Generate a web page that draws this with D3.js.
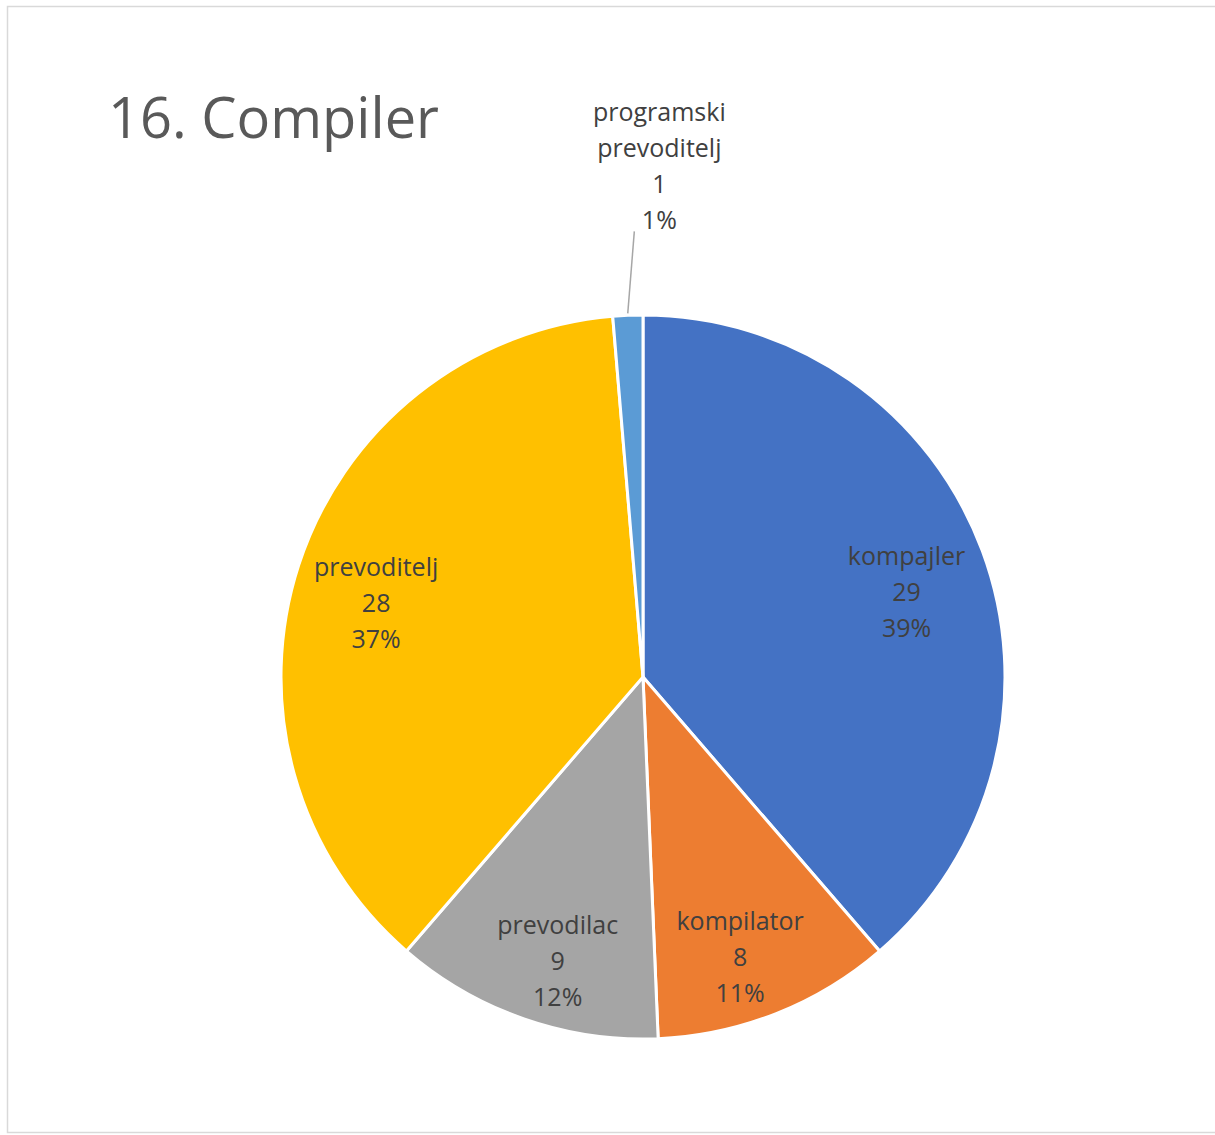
<!DOCTYPE html>
<html><head><meta charset="utf-8">
<script src="https://cdn.jsdelivr.net/npm/d3@7"></script>
<style>body{margin:0;background:#fff}svg{display:block}</style>
</head><body>
<svg id="c" width="1215" height="1135"></svg>
<script>
const categories = ["kompajler", "kompilator", "prevodilac", "prevoditelj", "programski prevoditelj"];
const values = [29, 8, 9, 28, 1];
const colors = ["#4472C4", "#ED7D31", "#A5A5A5", "#FFC000", "#5B9BD5"];
const title = "16. Compiler";

const svg = d3.select("#c");
svg.append("rect").attr("x", 7.5).attr("y", 6.5).attr("width", 1210).attr("height", 1126)
  .attr("fill", "#fff").attr("stroke", "#d9d9d9").attr("stroke-width", 1.5);

svg.append("text").attr("x", 108).attr("y", 138).text(title)
  .attr("font-family", "'Open Sans', 'Noto Sans', sans-serif").attr("font-size", 56)
  .attr("fill", "#595959");

const cx = 643, cy = 677, R = 362;
const total = d3.sum(values);
const data = categories.map((c, i) => ({ cat: c, val: values[i], color: colors[i] }));
const pie = d3.pie().value(d => d.val).sort(null);
const arcs = pie(data);
const arc = d3.arc().innerRadius(0).outerRadius(R);

const g = svg.append("g").attr("transform", `translate(${cx},${cy})`);
g.selectAll("path").data(arcs).join("path")
  .attr("d", arc).attr("fill", d => d.data.color)
  .attr("stroke", "#fff").attr("stroke-width", 3).attr("stroke-linejoin", "round");

const font = "'Open Sans', 'Noto Sans', sans-serif";
const fs = 25;
const lineH = 36;
const q = Math.PI / 2;
arcs.forEach(a => {
  let mid = (a.startAngle + a.endAngle) / 2;
  const pct = Math.round(a.data.val / total * 100) + "%";
  const frac = a.data.val / total;
  if (frac < 0.05) {
    const r1 = R + 2, r2 = R + 84;
    const p1 = [Math.sin(mid) * r1, -Math.cos(mid) * r1];
    const p2 = [Math.sin(mid) * r2 + 10, -Math.cos(mid) * r2];
    g.append("line").attr("x1", p1[0]).attr("y1", p1[1]).attr("x2", p2[0]).attr("y2", p2[1])
      .attr("stroke", "#a6a6a6").attr("stroke-width", 1.5);
    const lines = a.data.cat.split(" ").concat([String(a.data.val), pct]);
    const tx = p2[0] + 25, lastBase = p2[1] - 2;
    lines.forEach((t, i) => {
      g.append("text").attr("x", tx).attr("y", lastBase - (lines.length - 1 - i) * lineH)
        .attr("text-anchor", "middle").attr("font-family", font).attr("font-size", fs)
        .attr("fill", "#404040").text(t);
    });
  } else {
    // pull label slightly toward the nearest axis direction
    const nearest = Math.round(mid / q) * q;
    const shift = 2.5 * Math.PI / 180;
    mid = mid + Math.sign(nearest - mid) * Math.min(shift, Math.abs(nearest - mid));
    const lr = frac > 0.3 ? 0.765 * R : 0.82 * R;
    const x = Math.sin(mid) * lr, y = -Math.cos(mid) * lr;
    const lines = [a.data.cat, String(a.data.val), pct];
    lines.forEach((t, i) => {
      g.append("text").attr("x", x).attr("y", y + (i - 1) * lineH + 9)
        .attr("text-anchor", "middle").attr("font-family", font).attr("font-size", fs)
        .attr("fill", "#404040").text(t);
    });
  }
});
</script>
</body></html>
